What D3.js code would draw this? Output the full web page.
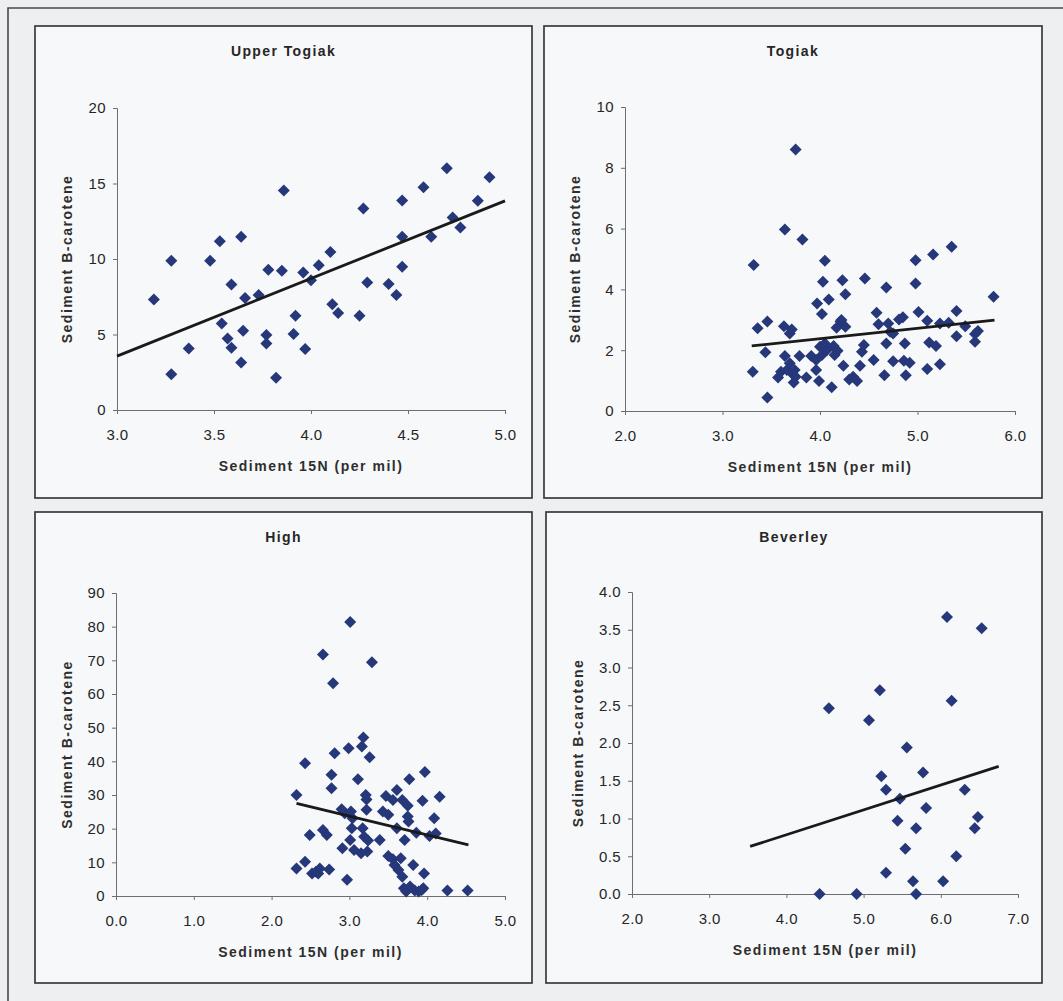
<!DOCTYPE html>
<html>
<head>
<meta charset="utf-8">
<title>Sediment 15N vs B-carotene</title>
<style>
    body { margin: 0; background: #eeeff1; }
    svg { display: block; }
    .box { fill: #f7f8f9; stroke: #3a3a3a; stroke-width: 1.7px; }
    .frame { fill: none; stroke: #4a4a4a; stroke-width: 1.6px; }
    .axis path, .axis line { stroke: #6e6e6e; stroke-width: 1px; }
    .axis text { font: 15px "Liberation Sans", Arial, sans-serif; fill: #262626; letter-spacing: 0.4px; }
    .title { font: bold 14px "Liberation Sans", Arial, sans-serif; fill: #262626; letter-spacing: 1.4px; text-anchor: middle; }
    .atitle { font: bold 14px "Liberation Sans", Arial, sans-serif; fill: #2e2e2e; letter-spacing: 1.5px; text-anchor: middle; }
    .dot { fill: #26377a; }
    .trend { stroke: #1a1a1a; stroke-width: 2.8px; fill: none; }
</style>
</head>
<body>
<svg width="1063" height="1001"></svg>
<script src="https://d3js.org/d3.v7.min.js"></script>
<script>
// [15N, B-carotene] pairs
const upperTogiak = [
    [3.19, 7.32], [3.28, 9.88], [3.28, 2.36], [3.37, 4.08], [3.48, 9.88],
    [3.53, 11.18], [3.54, 5.73], [3.57, 4.74], [3.59, 4.12], [3.59, 8.31],
    [3.64, 11.47], [3.64, 3.15], [3.66, 7.41], [3.65, 5.25], [3.73, 7.61],
    [3.77, 4.96], [3.77, 4.41], [3.78, 9.28], [3.82, 2.14], [3.85, 9.22],
    [3.86, 14.53], [3.92, 6.24], [3.91, 5.03], [3.96, 9.11], [3.97, 4.04],
    [4.00, 8.60], [4.04, 9.59], [4.10, 10.47], [4.11, 7.01], [4.14, 6.42],
    [4.25, 6.24], [4.27, 13.34], [4.29, 8.45], [4.40, 8.34], [4.44, 7.61],
    [4.47, 13.87], [4.47, 11.47], [4.47, 9.48], [4.58, 14.75], [4.62, 11.47],
    [4.70, 16.01], [4.73, 12.75], [4.77, 12.08], [4.86, 13.85], [4.92, 15.41]
];
const togiak = [
    [3.32, 4.80], [3.31, 1.29], [3.36, 2.72], [3.44, 1.93], [3.46, 2.94],
    [3.46, 0.44], [3.57, 1.10], [3.60, 1.29], [3.64, 5.97], [3.63, 2.79],
    [3.64, 1.81], [3.66, 1.35], [3.69, 2.55], [3.71, 2.68], [3.69, 1.57],
    [3.71, 1.24], [3.73, 0.94], [3.75, 8.60], [3.74, 1.35], [3.75, 1.13],
    [3.79, 1.81], [3.82, 5.64], [3.86, 1.10], [3.91, 1.81], [3.96, 1.68],
    [3.97, 3.54], [3.96, 1.35], [3.99, 0.99], [4.00, 2.11], [4.02, 3.19],
    [4.03, 4.25], [4.02, 1.84], [4.05, 4.94], [4.05, 2.22], [4.07, 2.00],
    [4.09, 3.67], [4.12, 0.78], [4.14, 2.14], [4.15, 1.84], [4.18, 1.98],
    [4.17, 2.74], [4.21, 2.94], [4.22, 2.99], [4.23, 4.30], [4.24, 1.49],
    [4.26, 2.77], [4.26, 3.84], [4.30, 1.04], [4.34, 1.13], [4.38, 0.99],
    [4.41, 1.49], [4.43, 1.95], [4.45, 2.17], [4.46, 4.36], [4.55, 1.68],
    [4.58, 3.23], [4.60, 2.85], [4.66, 1.18], [4.68, 4.06], [4.68, 2.22],
    [4.70, 2.88], [4.72, 2.61], [4.75, 2.55], [4.75, 1.64], [4.81, 3.01],
    [4.85, 3.08], [4.87, 2.22], [4.86, 1.65], [4.88, 1.18], [4.92, 1.59],
    [4.98, 4.96], [4.98, 4.19], [5.01, 3.26], [5.10, 2.97], [5.10, 1.38],
    [5.12, 2.25], [5.16, 5.15], [5.19, 2.14], [5.23, 1.54], [5.23, 2.88],
    [5.32, 2.90], [5.35, 5.40], [5.40, 3.29], [5.40, 2.46], [5.49, 2.79],
    [5.59, 2.53], [5.59, 2.28], [5.62, 2.63], [5.78, 3.76]
];
const high = [
    [2.32, 30.0], [2.32, 8.2], [2.43, 39.4], [2.43, 10.2], [2.49, 18.1],
    [2.52, 6.7], [2.57, 7.2], [2.62, 8.2], [2.60, 6.7], [2.66, 71.7],
    [2.66, 19.6], [2.71, 18.1], [2.74, 7.9], [2.77, 36.0], [2.77, 32.0],
    [2.79, 63.2], [2.81, 42.4], [2.90, 25.8], [2.91, 14.2], [2.94, 24.6],
    [2.97, 4.8], [2.99, 43.9], [3.01, 81.4], [3.02, 25.1], [3.01, 16.6],
    [3.03, 20.1], [3.04, 23.1], [3.06, 13.7], [3.11, 34.7], [3.15, 12.7],
    [3.16, 44.4], [3.18, 47.1], [3.17, 20.1], [3.19, 17.6], [3.21, 30.0],
    [3.22, 25.6], [3.23, 13.2], [3.24, 16.5], [3.26, 41.2], [3.29, 69.4],
    [3.22, 28.7], [3.39, 16.6], [3.43, 25.1], [3.47, 29.7], [3.50, 24.1],
    [3.50, 11.9], [3.56, 10.9], [3.58, 9.2], [3.61, 31.5], [3.61, 20.1],
    [3.63, 7.7], [3.66, 11.2], [3.68, 28.5], [3.71, 16.6], [3.68, 5.7],
    [3.70, 2.3], [3.73, 1.3], [3.75, 23.6], [3.76, 22.1], [3.75, 26.8],
    [3.77, 34.7], [3.78, 2.8], [3.82, 9.2], [3.84, 1.6], [3.86, 18.8],
    [3.89, 1.3], [3.94, 28.3], [3.95, 2.3], [3.96, 6.7], [3.97, 36.8],
    [4.03, 17.8], [4.09, 23.1], [4.11, 18.6], [4.16, 29.5], [4.26, 1.6],
    [4.52, 1.6], [3.93, 1.8], [3.56, 28.5]
];
const beverley = [
    [4.43, 0.00], [4.55, 2.46], [4.91, 0.00], [5.07, 2.30], [5.21, 2.70],
    [5.23, 1.56], [5.29, 1.38], [5.29, 0.28], [5.44, 0.97], [5.47, 1.26],
    [5.54, 0.60], [5.56, 1.94], [5.64, 0.17], [5.68, 0.87], [5.68, 0.00],
    [5.77, 1.61], [5.81, 1.14], [6.03, 0.17], [6.08, 3.67], [6.14, 2.56],
    [6.20, 0.50], [6.31, 1.38], [6.44, 0.87], [6.48, 1.02], [6.53, 3.52]
];

// trend line end points [x, y] as drawn in each panel
const upperTogiakTrend = [[3.0, 3.57], [5.0, 13.85]];
const togiakTrend = [[3.30, 2.14], [5.79, 2.99]];
const highTrend = [[2.32, 27.5], [4.53, 15.2]];
const beverleyTrend = [[3.53, 0.63], [6.75, 1.69]];

// axis ticks
const upperXTicks = [3.0, 3.5, 4.0, 4.5, 5.0];
const upperYTicks = [0, 5, 10, 15, 20];
const togiakXTicks = [2.0, 3.0, 4.0, 5.0, 6.0];
const togiakYTicks = [0, 2, 4, 6, 8, 10];
const highXTicks = [0.0, 1.0, 2.0, 3.0, 4.0, 5.0];
const highYTicks = [0, 10, 20, 30, 40, 50, 60, 70, 80, 90];
const beverleyXTicks = [2.0, 3.0, 4.0, 5.0, 6.0, 7.0];
const beverleyYTicks = [0.0, 0.5, 1.0, 1.5, 2.0, 2.5, 3.0, 3.5, 4.0];

const xLabel = "Sediment 15N (per mil)";
const yLabel = "Sediment B-carotene";

const panels = [
    { title: "Upper Togiak", data: upperTogiak, trend: upperTogiakTrend,
      xTicks: upperXTicks, yTicks: upperYTicks, yFmt: "d",
      box: [35, 26, 532, 498], plot: [117, 505, 108, 410], yTitleX: 67 },
    { title: "Togiak", data: togiak, trend: togiakTrend,
      xTicks: togiakXTicks, yTicks: togiakYTicks, yFmt: "d",
      box: [544, 26, 1042, 498], plot: [625, 1015, 107, 411], yTitleX: 575 },
    { title: "High", data: high, trend: highTrend,
      xTicks: highXTicks, yTicks: highYTicks, yFmt: "d",
      box: [35, 512, 532, 983], plot: [116, 505, 593, 896], yTitleX: 67 },
    { title: "Beverley", data: beverley, trend: beverleyTrend,
      xTicks: beverleyXTicks, yTicks: beverleyYTicks, yFmt: ".1f",
      box: [546, 512, 1042, 983], plot: [632, 1018, 592, 894], yTitleX: 578 }
];

const svg = d3.select("svg");

// outer scan frame, runs off the right and bottom
svg.append("path")
    .attr("class", "frame")
    .attr("d", "M8,1001V8H1063");

const diamond = (cx, cy, r) => `M${cx},${cy - r}L${cx + r},${cy}L${cx},${cy + r}L${cx - r},${cy}Z`;

panels.forEach(p => {
    const [bx0, by0, bx1, by1] = p.box;
    const [px0, px1, pyTop, pyBot] = p.plot;

    svg.append("rect")
        .attr("class", "box")
        .attr("x", bx0).attr("y", by0)
        .attr("width", bx1 - bx0).attr("height", by1 - by0);

    const x = d3.scaleLinear()
        .domain(d3.extent(p.xTicks))
        .range([px0, px1]);
    const y = d3.scaleLinear()
        .domain(d3.extent(p.yTicks))
        .range([pyBot, pyTop]);

    svg.append("g")
        .attr("class", "axis")
        .attr("transform", `translate(0,${pyBot})`)
        .call(d3.axisBottom(x).tickValues(p.xTicks).tickFormat(d3.format(".1f"))
            .tickSize(4).tickPadding(15).tickSizeOuter(4));

    svg.append("g")
        .attr("class", "axis")
        .attr("transform", `translate(${px0},0)`)
        .call(d3.axisLeft(y).tickValues(p.yTicks).tickFormat(d3.format(p.yFmt))
            .tickSize(4).tickPadding(7).tickSizeOuter(4));

    svg.append("text")
        .attr("class", "title")
        .attr("x", (bx0 + bx1) / 2)
        .attr("y", by0 + 25)
        .attr("dy", "0.35em")
        .text(p.title);

    svg.append("text")
        .attr("class", "atitle")
        .attr("x", (px0 + px1) / 2)
        .attr("y", pyBot + 56)
        .attr("dy", "0.35em")
        .text(xLabel);

    svg.append("text")
        .attr("class", "atitle")
        .attr("transform", `translate(${p.yTitleX},${(pyTop + pyBot) / 2}) rotate(-90)`)
        .attr("dy", "0.35em")
        .text(yLabel);

    svg.append("g")
        .selectAll("path")
        .data(p.data)
        .join("path")
        .attr("class", "dot")
        .attr("d", d => diamond(x(d[0]), y(d[1]), 6));

    svg.append("path")
        .attr("class", "trend")
        .attr("d", d3.line().x(d => x(d[0])).y(d => y(d[1]))(p.trend));
});
</script>
</body>
</html>
